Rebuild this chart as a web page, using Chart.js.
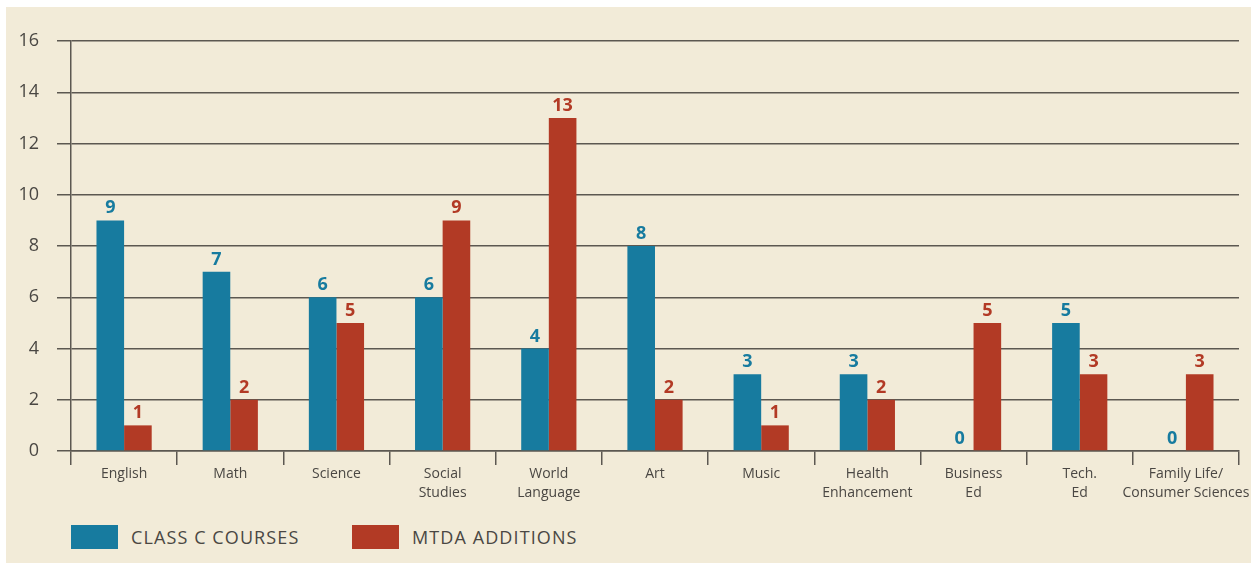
<!DOCTYPE html>
<html>
<head>
<meta charset="utf-8">
<script src="https://cdn.jsdelivr.net/npm/chart.js@4/dist/chart.umd.min.js"></script>
<style>
  body { margin: 0; background: #fff; }
  #panel { position: absolute; left: 6px; top: 7px; width: 1245px; height: 556px; background: #f2ebd8; }
  #wrap { position: absolute; left: 0; top: 0; width: 1245px; height: 510px; }
  .leg { position: absolute; top: 518px; height: 24px; display: flex; align-items: center;
         font-family: "Open Sans", sans-serif; font-size: 18px; color: #4a4743; letter-spacing: 1.1px; }
  .leg span.box { width: 47px; height: 24px; display: inline-block; margin-right: 13px; }
</style>
</head>
<body>
<div id="panel">
  <div id="wrap"><canvas id="chart"></canvas></div>
  <div id="legend"></div>
</div>
<script>
var categories = [
  "English", "Math", "Science", ["Social", "Studies"], ["World", "Language"], "Art",
  "Music", ["Health", "Enhancement"], ["Business", "Ed"], ["Tech.", "Ed"],
  ["Family Life/", "Consumer Sciences"]
];
var classC = [9, 7, 6, 6, 4, 8, 3, 3, 0, 5, 0];
var mtda = [1, 2, 5, 9, 13, 2, 1, 2, 5, 3, 3];
var seriesNames = ["CLASS C COURSES", "MTDA ADDITIONS"];
var seriesColors = ["#177b9f", "#b23a25"];
var yTicks = [0, 2, 4, 6, 8, 10, 12, 14, 16];

var textColor = "#4a4743";
var gridColor = "#5c5851";

// numbers over the bars
var valueLabels = {
  id: 'valueLabels',
  afterDatasetsDraw: function(chart) {
    var ctx = chart.ctx;
    ctx.save();
    ctx.font = "bold 18px 'Open Sans', sans-serif";
    ctx.textAlign = "center";
    ctx.textBaseline = "alphabetic";
    chart.data.datasets.forEach(function(ds, i) {
      var meta = chart.getDatasetMeta(i);
      ctx.fillStyle = ds.backgroundColor;
      meta.data.forEach(function(bar, j) {
        ctx.fillText(String(ds.data[j]), bar.x, bar.y - 7);
      });
    });
    ctx.restore();
  }
};

var ctx = document.getElementById('chart').getContext('2d');
var chart = new Chart(ctx, {
  type: 'bar',
  data: {
    labels: categories,
    datasets: [
      { label: seriesNames[0], data: classC, backgroundColor: seriesColors[0] },
      { label: seriesNames[1], data: mtda, backgroundColor: seriesColors[1] }
    ]
  },
  options: {
    responsive: true,
    maintainAspectRatio: false,
    animation: false,
    layout: { padding: { top: 34, right: 12, left: 0, bottom: 0 } },
    plugins: { legend: { display: false }, tooltip: { enabled: false } },
    datasets: { bar: { categoryPercentage: 0.52, barPercentage: 1.0 } },
    scales: {
      x: {
        grid: { offset: true, drawOnChartArea: false, drawTicks: true, tickLength: 14,
                color: gridColor, lineWidth: 1.5 },
        border: { display: true, color: gridColor, width: 1.5 },
        ticks: { color: textColor, padding: -1, maxRotation: 0, autoSkip: false,
                 font: { family: "'Open Sans', sans-serif", size: 14, lineHeight: 1.36 } },
        afterFit: function(s) { s.height = 66; s.paddingLeft = 0; s.paddingRight = 0; }
      },
      y: {
        min: 0, max: 16,
        afterBuildTicks: function(s) { s.ticks = yTicks.map(function(v) { return { value: v }; }); },
        grid: { color: gridColor, lineWidth: 1.5, tickLength: 14 },
        border: { display: true, color: gridColor, width: 1.5 },
        ticks: { color: textColor, padding: 18,
                 font: { family: "'Open Sans', sans-serif", size: 18 } },
        afterFit: function(s) { s.width = 65; }
      }
    }
  },
  plugins: [valueLabels]
});

// legend built from the datasets
var legendLeft = [65, 346];
var legend = document.getElementById('legend');
chart.data.datasets.forEach(function(ds, i) {
  var item = document.createElement('div');
  item.className = 'leg';
  item.style.left = legendLeft[i] + 'px';
  item.innerHTML = '<span class="box" style="background:' + ds.backgroundColor + '"></span>' + ds.label;
  legend.appendChild(item);
});
</script>
</body>
</html>
